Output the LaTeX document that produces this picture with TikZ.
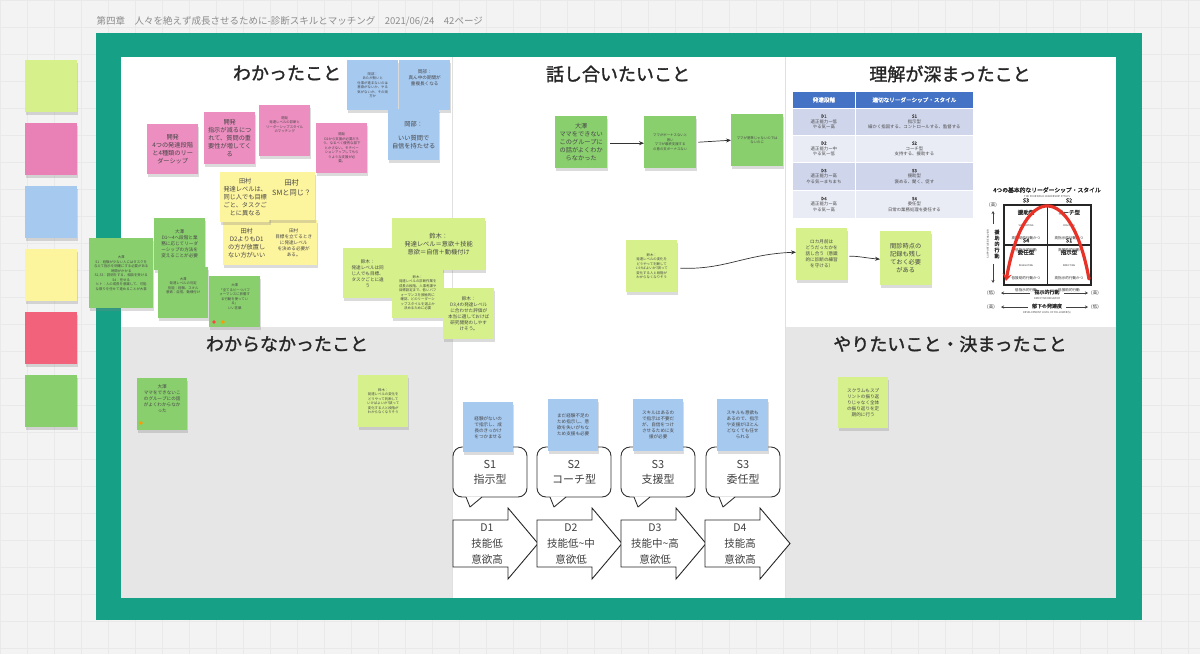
\documentclass[tikz,border=0pt]{standalone}
\usepackage{fontspec}
\setmainfont[AutoFakeBold=1.6]{Noto Sans CJK JP}
\usetikzlibrary{shadows,arrows.meta}
\definecolor{tealf}{RGB}{22,160,133}
\definecolor{pk}{RGB}{236,142,192}
\definecolor{pk2}{RGB}{233,128,182}
\definecolor{bl}{RGB}{166,201,240}
\definecolor{yl}{RGB}{253,244,158}
\definecolor{gr}{RGB}{138,207,110}
\definecolor{lg}{RGB}{214,240,140}
\definecolor{rd}{RGB}{242,98,122}
\definecolor{bgg}{RGB}{243,243,243}
\definecolor{gridc}{RGB}{233,233,233}
\definecolor{band}{RGB}{230,230,230}
\definecolor{hdr}{RGB}{68,114,196}
\definecolor{rowa}{RGB}{207,213,234}
\definecolor{rowb}{RGB}{233,235,245}
\definecolor{curvec}{RGB}{232,50,40}
\begin{document}
\begin{tikzpicture}[x=1pt,y=-1pt,
  stk/.style={rectangle, anchor=north west, align=center, inner sep=1pt, text=black!72,
    drop shadow={opacity=0.28, shadow xshift=0.6pt, shadow yshift=-2.5pt}},
  wh/.style 2 args={minimum width=#1pt, minimum height=#2pt},
  fA/.style={font=\fontsize{6.2}{8}\selectfont},
  fB/.style={font=\fontsize{4.6}{6}\selectfont},
  fC/.style={font=\fontsize{3.4}{4.5}\selectfont},
  head/.style={font=\fontsize{18}{20}\selectfont\bfseries, text=black!85},
  link/.style={-{Stealth[length=5pt,width=4pt]}, line width=0.7pt, black!80},
  bubble/.style={draw=black!80, line width=0.9pt, rounded corners=9pt, fill=white,
    minimum width=74pt, minimum height=50pt, align=center,
    font=\fontsize{11}{15}\selectfont, text=black!75},
  arrowshape/.style={draw=black!85, line width=0.9pt, fill=white},
  arrowtext/.style={align=center, font=\fontsize{10.5}{16}\selectfont, text=black!75},
  tcell/.style={rectangle, anchor=north west, draw=white, line width=0.8pt, align=center,
    inner sep=0.5pt, font=\fontsize{4.4}{5.6}\selectfont, text=black!70},
  ctext/.style={align=center, text=black!80},
  axlab/.style={font=\fontsize{5}{6}\selectfont\bfseries, text=black!80},
  axsmall/.style={font=\fontsize{2.6}{3}\selectfont, text=black!70},
  axarrow/.style={-{Stealth[length=3pt,width=3pt]}, line width=0.5pt, black!75}
]
\useasboundingbox (0,0) rectangle (1200,654);
% page background with grid
\fill[bgg] (0,0) rectangle (1200,654);
\foreach \g in {0,27,...,1200} \draw[gridc, line width=0.5pt] (\g,0) -- (\g,654);
\foreach \g in {0,27,...,654} \draw[gridc, line width=0.5pt] (0,\g) -- (1200,\g);

% top caption
\node[anchor=west, text=black!45, font=\fontsize{9.5}{11}\selectfont] (caption) at (93,21)
  {第四章\quad 人々を絶えず成長させるために-診断スキルとマッチング\quad 2021/06/24\quad 42ページ};

% left sticky stack
\node[stk, fill=lg,  wh={52}{52}] (s1) at (25,60) {};
\node[stk, fill=pk2, wh={52}{52}] (s2) at (25,123) {};
\node[stk, fill=bl,  wh={52}{52}] (s3) at (25,186) {};
\node[stk, fill=yl,  wh={52}{52}] (s4) at (25,249) {};
\node[stk, fill=rd,  wh={52}{52}] (s5) at (25,312) {};
\node[stk, fill=gr,  wh={52}{52}] (s6) at (25,375) {};

% frame
\fill[tealf] (96,33) rectangle (1142,620);
\fill[white] (121,57) rectangle (1116,598);
\fill[band] (121,327) rectangle (452,598);
\fill[band] (785,327) rectangle (1116,598);
\draw[black!12, line width=0.6pt] (452,57) -- (452,598);
\draw[black!12, line width=0.6pt] (785,57) -- (785,598);

% headings
\node[head] (h1) at (287,73) {わかったこと};
\node[head] (h2) at (618,74) {話し合いたいこと};
\node[head] (h3) at (950,74) {理解が深まったこと};
\node[head] (h4) at (287,344) {わからなかったこと};
\node[head] (h5) at (950,344) {やりたいこと・決まったこと};

% ---------- top-left: わかったこと ----------
\node[stk, fill=pk, wh={51}{50}, fA] (p1) at (147,124) {開発\\4つの発達段階\\と4種類のリー\\ダーシップ};
\node[stk, fill=pk, wh={51}{52}, fA] (p2) at (204,112) {開発\\指示が減るにつ\\れて、質問の重\\要性が増してく\\る};
\node[stk, fill=pk, wh={51}{51}, fC] (p3) at (259,105) {開発\\発達レベルの診断と\\リーダーシップスタイル\\のマッチング\\[8pt]};
\node[stk, fill=pk, wh={51}{50}, fC] (p4) at (316,123) {開発\\D2から支援が必要だろ\\う、なるべく優秀な部下\\とかさない。モチベー\\ションアップしてもら\\うような支援が必\\要。};
\node[stk, fill=bl, wh={51}{50}, fC] (b1) at (347,60) {岡部：\\あたが無いと\\仕事が進まないのは\\意欲がないか、やる\\気がないか、その両\\方か};
\node[stk, fill=bl, wh={51}{50}, fB] (b2) at (399,60) {岡部：\\真ん中の期間が\\重複長くなる\\[10pt]};
\node[stk, fill=bl, wh={51}{51}, fA] (b3) at (388,109) {岡部：\\[6pt]いい質問で\\自信を持たせる};

\node[stk, fill=yl, wh={47}{45}, fA] (y3) at (223,220) {田村\\D2よりもD1\\の方が放置し\\ない方がいい};
\node[stk, fill=yl, wh={47}{45}, fB] (y4) at (270,220) {田村\\目標を立てるとき\\に発達レベル\\を決める必要が\\ある。};
\node[stk, fill=yl, wh={50}{50}, fA] (y1) at (220,172) {田村\\発達レベルは、\\同じ人でも目標\\ごと、タスクご\\とに異なる};
\node[stk, fill=yl, wh={47}{48}, font=\fontsize{7.2}{9.5}\selectfont] (y2) at (268,172) {田村\\SMと同じ？\\[8pt]};

\node[stk, fill=gr, wh={64}{70}, fC] (g2) at (89,238) {大澤\\S1：経験が少ない人にはタスクを\\与えて指示を明確にする必要がある\\時間がかかる\\S2,S3：説明をする、相談を受ける\\S4：任せる\\ヒト：人の成長を意識して、可能\\な限りを任せて進めることが大事};
\node[stk, fill=gr, wh={51}{52}, fB] (g1) at (154,218) {大澤\\D1～4へ段階と業\\務に応じてリーダ\\ーシップの方法を\\変えることが必要};
\node[stk, fill=gr, wh={50}{51}, fC] (g3) at (158,267) {大澤\\発達レベルの判定\\技能：経験、スキル\\意欲：自信、動機付け\\[10pt]};
\node[stk, fill=gr, wh={51}{51}, fC] (g4) at (209,276) {大澤\\「全てるビーつパフ\\ォーマンスに影響す\\る行動を使ってい\\る」\\いい言葉\\[6pt]};
\fill[red!75] (214,322) circle (1.8);
\fill[orange!80!yellow] (223,322) circle (1.8);

\node[stk, fill=lg, wh={49}{50}, fB] (l1) at (343,248) {鈴木：\\発達レベルは同\\じ人でも目標、\\タスクごとに違\\う};
\node[stk, fill=lg, wh={93}{52}, fA] (l2) at (392,218) {鈴木：\\発達レベル＝意欲＋技能\\意欲＝自信＋動機付け};
\node[stk, fill=lg, wh={51}{51}, fC] (l3) at (392,267) {鈴木：\\発達レベルの診断作業を\\成長の段階、人事考課や\\目標設定まで、低いパフ\\ォーマンスを接触的に\\確認、どのリーダーシ\\ップスタイルを選ぶか\\決めるために必要};
\node[stk, fill=lg, wh={51}{51}, fB] (l4) at (443,288) {鈴木：\\D3,4の発達レベル\\に合わせた評価が\\本当に適しておけば\\研究開発のしやす\\けそう。};

% ---------- top-middle: 話し合いたいこと ----------
\node[stk, fill=gr, wh={52}{52}, fA] (m1) at (555,116) {大澤\\ママをできない\\このグループに\\の話がよくわか\\らなかった};
\node[stk, fill=gr, wh={52}{52}, fC] (m2) at (644,116) {ママがボーナスないと\\思い\\ママが最終支援する\\の意の支ボーナスない};
\node[stk, fill=gr, wh={52}{52}, fC] (m3) at (731,114) {ママが基準じゃないのでは\\ないのに};
\node[stk, fill=lg, wh={51}{52}, fC] (m4) at (626,240) {鈴木：\\発達レベルの変化を\\どうやって判断して\\いけばよいか?誤って\\変化する人と段階が\\わからなくなりそう};
\draw[link] ([xshift=3pt,yshift=-1pt]m1.east) -- ([yshift=-1pt]m2.west);
\draw[link] ([xshift=2pt]m2.east) -- (m3.west);

% ---------- top-right: 理解が深まったこと ----------
\node[stk, fill=lg, wh={51}{52}, fB] (r1) at (796,228) {ロカ月前は\\どうだったかを\\話し合う（意識\\的に診断の練習\\を守ける）};
\node[stk, fill=lg, wh={51}{54}, fA] (r2) at (880,231) {間診時点の\\記録も残し\\ておく必要\\がある};
\draw[link] ([xshift=3pt,yshift=-2pt]m4.east) .. controls (725,270) and (745,254) .. ([yshift=2pt]r1.west);
\draw[link] ([xshift=2pt,yshift=-2pt]r1.east) .. controls (858,256) and (866,258) .. ([yshift=-1pt]r2.west);

% table
\node[tcell, fill=hdr, text=white, wh={63}{17}, font=\fontsize{5.6}{7}\selectfont\bfseries] (th1) at (792,91) {発達段階};
\node[tcell, fill=hdr, text=white, wh={118}{17}, font=\fontsize{5.6}{7}\selectfont\bfseries] (th2) at (855,91) {適切なリーダーシップ・スタイル};
\node[tcell, fill=rowa, wh={63}{27}] (ta1) at (792,108) {\textbf{D1}\\適正能力ー低\\やる気ー高};
\node[tcell, fill=rowa, wh={118}{27}] (tb1) at (855,108) {\textbf{S1}\\指示型\\細かく指図する、コントロールする、監督する};
\node[tcell, fill=rowb, wh={63}{27}] (ta2) at (792,135) {\textbf{D2}\\適正能力ー中\\やる気ー低};
\node[tcell, fill=rowb, wh={118}{27}] (tb2) at (855,135) {\textbf{S2}\\コーチ型\\支持する、援助する};
\node[tcell, fill=rowa, wh={63}{28}] (ta3) at (792,162) {\textbf{D3}\\適正能力ー高\\やる気ーまちまち};
\node[tcell, fill=rowa, wh={118}{28}] (tb3) at (855,162) {\textbf{S3}\\援助型\\褒める、聞く、促す};
\node[tcell, fill=rowb, wh={63}{28}] (ta4) at (792,190) {\textbf{D4}\\適正能力ー高\\やる気ー高};
\node[tcell, fill=rowb, wh={118}{28}] (tb4) at (855,190) {\textbf{S4}\\委任型\\日常の業務処理を委任する};

% leadership chart
\node[font=\fontsize{5.8}{7}\selectfont\bfseries, text=black!85] (ctitle) at (1047,190) {4つの基本的なリーダーシップ・スタイル};
\node[axsmall] (csub) at (1047,197) {THE FOUR BASIC LEADERSHIP STYLES};
\draw[black!85, line width=1.1pt] (1004,205) rectangle (1091,285);
\draw[black!85, line width=1.1pt] (1047.5,205) -- (1047.5,285);
\draw[black!85, line width=1.1pt] (1004,245) -- (1091,245);
\node[ctext] (cs3) at (1026,225) {{\fontsize{5.5}{6}\selectfont\bfseries S3}\\{\fontsize{5.5}{6}\selectfont\bfseries 援助型}\\{\fontsize{2.4}{3}\selectfont SUPPORTING}\\[1pt]{\fontsize{3.6}{4.4}\selectfont 高援助的行動かつ}\\{\fontsize{3.6}{4.4}\selectfont 低指示的行動}};
\node[ctext] (cs2) at (1069,225) {{\fontsize{5.5}{6}\selectfont\bfseries S2}\\{\fontsize{5.5}{6}\selectfont\bfseries コーチ型}\\{\fontsize{2.4}{3}\selectfont COACHING}\\[1pt]{\fontsize{3.6}{4.4}\selectfont 高指示的行動かつ}\\{\fontsize{3.6}{4.4}\selectfont 高援助的行動}};
\node[ctext] (cs4) at (1026,265) {{\fontsize{5.5}{6}\selectfont\bfseries S4}\\{\fontsize{5.5}{6}\selectfont\bfseries 委任型}\\{\fontsize{2.4}{3}\selectfont DELEGATING}\\[1pt]{\fontsize{3.6}{4.4}\selectfont 低援助的行動かつ}\\{\fontsize{3.6}{4.4}\selectfont 低指示的行動}};
\node[ctext] (cs1) at (1069,265) {{\fontsize{5.5}{6}\selectfont\bfseries S1}\\{\fontsize{5.5}{6}\selectfont\bfseries 指示型}\\{\fontsize{2.4}{3}\selectfont DIRECTING}\\[1pt]{\fontsize{3.6}{4.4}\selectfont 高指示的行動かつ}\\{\fontsize{3.6}{4.4}\selectfont 低援助的行動}};
\draw[curvec, line width=3.2pt, line cap=round, -{Stealth[length=7pt,width=9pt]}] (1089,279) .. controls (1072,184) and (1024,180) .. (1006,281);
% vertical axis
\node[axlab, font=\fontsize{4.5}{5}\selectfont] (vhi) at (993,205) {(高)};
\node[axlab, align=center, font=\fontsize{5}{6}\selectfont\bfseries] (vlab) at (997,244) {援\\助\\的\\行\\動};
\node[axsmall, rotate=90] (vsub) at (988,244) {SUPPORTIVE BEHAVIOR};
\draw[axarrow] (993,224) -- (993,211);
\draw[axarrow] (993,264) -- (993,283);
% horizontal axes
\node[axlab, font=\fontsize{4.5}{5}\selectfont] (hlo) at (991,293) {(低)};
\node[axlab] (hlab) at (1047,292) {指示的行動};
\node[axsmall] (hsub) at (1047,298.5) {DIRECTIVE BEHAVIOR};
\node[axlab, font=\fontsize{4.5}{5}\selectfont] (hhi) at (1095,293) {(高)};
\draw[axarrow] (1030,293) -- (1001,293);
\draw[axarrow] (1064,293) -- (1088,293);
\node[axlab, font=\fontsize{4.5}{5}\selectfont] (dhi) at (991,307) {(高)};
\node[axlab] (dlab) at (1047,306) {部下の発達度};
\node[axsmall] (dsub) at (1047,312.5) {DEVELOPMENT LEVEL OF FOLLOWER(S)};
\node[axlab, font=\fontsize{4.5}{5}\selectfont] (dlo) at (1095,307) {(低)};
\draw[axarrow] (1028,307) -- (1001,307);
\draw[axarrow] (1066,307) -- (1088,307);

% ---------- bottom-left: わからなかったこと ----------
\node[stk, fill=gr, wh={50}{52}, fB] (bl1) at (137,378) {大澤\\ママをできないこ\\のグループにの話\\がよくわからなか\\った\\[6pt]};
\fill[orange!80!yellow] (141,423) circle (1.8);
\node[stk, fill=lg, wh={50}{52}, fC] (bl2) at (358,375) {鈴木：\\発達レベルの変化を\\どうやって判断して\\いけばよいか?誤って\\変化する人と段階が\\わからなくなりそう};

% ---------- bottom-middle ----------
\node[bubble] (bb1) at (490,472) {S1\\指示型};
\node[bubble] (bb2) at (574,472) {S2\\コーチ型};
\node[bubble] (bb3) at (658,472) {S3\\支援型};
\node[bubble] (bb4) at (743,472) {S3\\委任型};
\foreach \bx in {453,537,621,706} {
  \fill[white] (\bx+13,496.4) -- (\bx+17,507) -- (\bx+29,496.4) -- cycle;
  \draw[black!80, line width=0.9pt, line join=round] (\bx+13,497) -- (\bx+17,507) -- (\bx+29,497);
}
\node[stk, fill=bl, wh={50}{50}, fB] (q1) at (463,402) {経験がないの\\で指示し、成\\長のきっかけ\\をつかませる};
\node[stk, fill=bl, wh={50}{52}, fB] (q2) at (548,399) {まだ経験不足の\\ため指示し、意\\欲を失いがちな\\ため支援も必要};
\node[stk, fill=bl, wh={50}{52}, fB] (q3) at (633,399) {スキルはあるの\\で指示は不要だ\\が、自信をつけ\\させるために支\\援が必要};
\node[stk, fill=bl, wh={51}{52}, fB] (q4) at (717,399) {スキルも意欲も\\あるので、指示\\や支援がほとん\\どなくても任せ\\られる};

\foreach \ax in {453,537,621,705} {
  \draw[arrowshape, line join=miter] (\ax,520) -- (\ax+55,520) -- (\ax+55,508) -- (\ax+85,543.5) -- (\ax+55,579) -- (\ax+55,567) -- (\ax,567) -- cycle;
}
\node[arrowtext] (d1) at (487,544) {D1\\技能低\\意欲高};
\node[arrowtext] (d2) at (571,544) {D2\\技能低\textasciitilde 中\\意欲低};
\node[arrowtext] (d3) at (655,544) {D3\\技能中\textasciitilde 高\\意欲低};
\node[arrowtext] (d4) at (740,544) {D4\\技能高\\意欲高};

% ---------- bottom-right ----------
\node[stk, fill=lg, wh={50}{51}, fB] (br1) at (838,377) {スクラムもスプ\\リントの振り返\\りじゃなく全体\\の振り返りを定\\期的に行う};
\end{tikzpicture}
\end{document}
